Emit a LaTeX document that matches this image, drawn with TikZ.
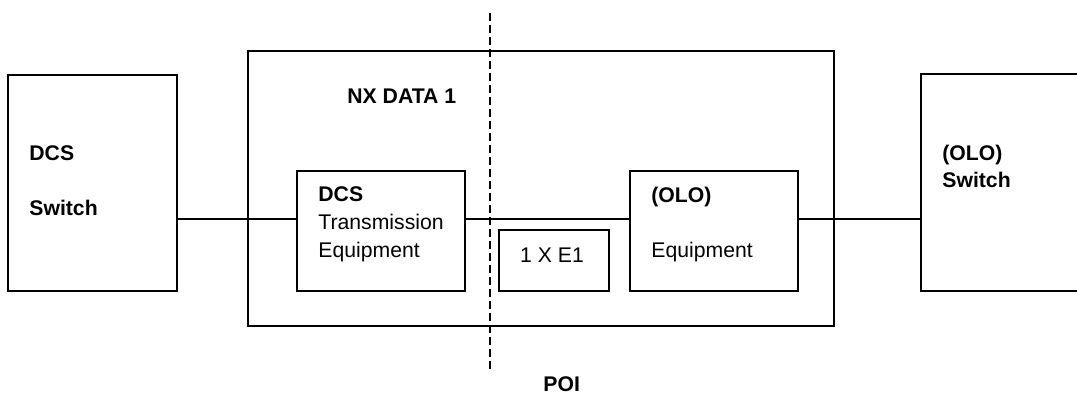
\documentclass[tikz,border=0pt]{standalone}
\usepackage{fontspec}
\setmainfont{Liberation Sans}
\usetikzlibrary{fit}
\tikzset{
  box/.style={draw=black, line width=1pt, inner sep=0pt},
  wire/.style={draw=black, line width=0.65pt},
  poiline/.style={draw=black, line width=0.8pt, dash pattern=on 4pt off 2pt},
  head/.style={font=\fontsize{10.6}{12}\selectfont\bfseries, anchor=base west, inner sep=0pt},
  body/.style={font=\fontsize{10.6}{12}\selectfont, anchor=base west, inner sep=0pt}
}

\begin{document}
\begin{tikzpicture}[x=0.5pt, y=-0.5pt]
  \useasboundingbox (0,0) rectangle (1077,394);
  \clip (0,0) rectangle (1077,394);

  % boxes
  \node[box, fit={(8,75) (177,291)}] (dcssw) {};
  \node[box, fit={(248,51) (834,326)}] (nx) {};
  \node[box, fit={(297,171) (465,291)}] (dcstx) {};
  \node[box, fit={(499,230) (609,291)}] (eone) {};
  \node[box, fit={(630,171) (798,291)}] (oloeq) {};
  \node[box, fit={(921,74) (1100,291)}] (olosw) {};

  % labels
  \node[head] (dcsswA) at (29,160.5) {DCS};
  \node[head] (dcsswB) at (29,216) {Switch};
  \node[head] (nxlbl) at (347,104) {NX DATA 1};
  \node[head] (dcstxA) at (318,202) {DCS};
  \node[body] (dcstxB) at (318,230) {Transmission};
  \node[body] (dcstxC) at (318,257.5) {Equipment};
  \node[body, anchor=base] (eonelbl) at (552,263) {1 X E1};
  \node[head] (oloeqA) at (651,203) {(OLO)};
  \node[body] (oloeqB) at (651,257.5) {Equipment};
  \node[head] (oloswA) at (942,160.5) {(OLO)};
  \node[head] (oloswB) at (942,188) {Switch};
  \node[head] (poilbl) at (543,391.5) {POI};

  % links
  \coordinate (bus) at (0,219);
  \draw[wire] (dcssw.east |- bus) -- (dcstx.west |- bus);
  \draw[wire] (dcstx.east |- bus) -- (oloeq.west |- bus);
  \draw[wire] (oloeq.east |- bus) -- (olosw.west |- bus);

  % point of interconnect
  \coordinate (poitop) at (490,13);
  \coordinate (poibot) at (490,370);
  \draw[poiline] (poitop) -- (poibot);
\end{tikzpicture}
\end{document}
